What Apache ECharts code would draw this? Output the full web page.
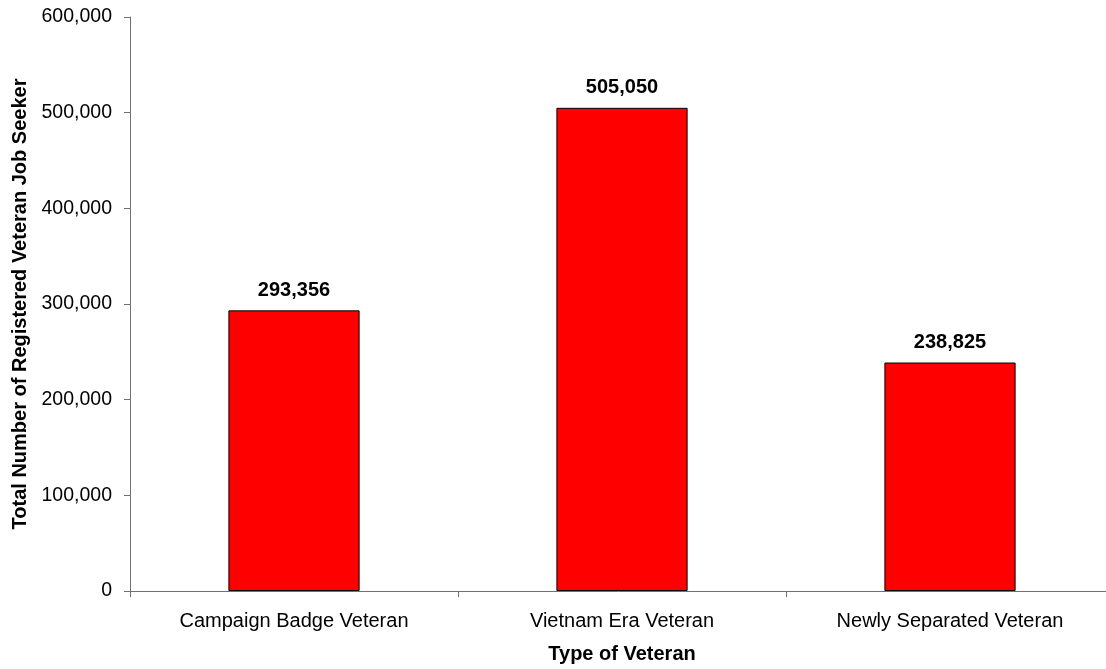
<!DOCTYPE html>
<html><head><meta charset="utf-8">
<script src="https://cdn.jsdelivr.net/npm/echarts@6/dist/echarts.min.js"></script>
<style>html,body{margin:0;padding:0;background:#fff}#c{width:1106px;height:669px}</style>
</head><body><div id="c"></div>
<script>
const categories = ["Campaign Badge Veteran", "Vietnam Era Veteran", "Newly Separated Veteran"];
const values = [293356, 505050, 238825];
const yTicks = [0, 100000, 200000, 300000, 400000, 500000, 600000];
const xTitle = "Type of Veteran";
const yTitle = "Total Number of Registered Veteran Job Seeker";

const fmt = v => v.toLocaleString('en-US');
const chart = echarts.init(document.getElementById('c'), null, {renderer: 'canvas'});
chart.setOption({
  animation: false,
  backgroundColor: '#fff',
  grid: {left: 130, top: 17, width: 984, height: 574, containLabel: false, outerBoundsMode: 'none'},
  xAxis: {
    type: 'category', data: categories,
    name: xTitle, nameLocation: 'middle', nameGap: 53,
    nameTextStyle: {fontFamily: 'Liberation Sans', fontWeight: 'bold', fontSize: 20, color: '#000'},
    axisLine: {lineStyle: {color: '#707070', width: 1}},
    axisTick: {show: true, alignWithLabel: false, length: 6, lineStyle: {color: '#707070'}},
    axisLabel: {fontFamily: 'Liberation Sans', fontSize: 20, color: '#000', margin: 20}
  },
  yAxis: {
    type: 'value', min: yTicks[0], max: yTicks[yTicks.length - 1], interval: 100000,
    name: yTitle, nameLocation: 'middle', nameGap: 100, nameRotate: 90,
    nameTextStyle: {fontFamily: 'Liberation Sans', fontWeight: 'bold', fontSize: 20, color: '#000'},
    axisLine: {show: true, lineStyle: {color: '#707070', width: 1}},
    axisTick: {show: true, length: 6, lineStyle: {color: '#707070'}},
    splitLine: {show: false},
    axisLabel: {fontFamily: 'Liberation Sans', fontSize: 19.5, color: '#000', margin: 18, formatter: v => fmt(v)}
  },
  series: [{
    type: 'bar', data: values, barWidth: '40%',
    itemStyle: {color: '#ff0000', borderColor: '#000', borderWidth: 1},
    label: {show: true, position: 'top', distance: 10, fontFamily: 'Liberation Sans', fontWeight: 'bold', fontSize: 20, color: '#000', formatter: p => fmt(p.value)}
  }]
});
</script></body></html>
